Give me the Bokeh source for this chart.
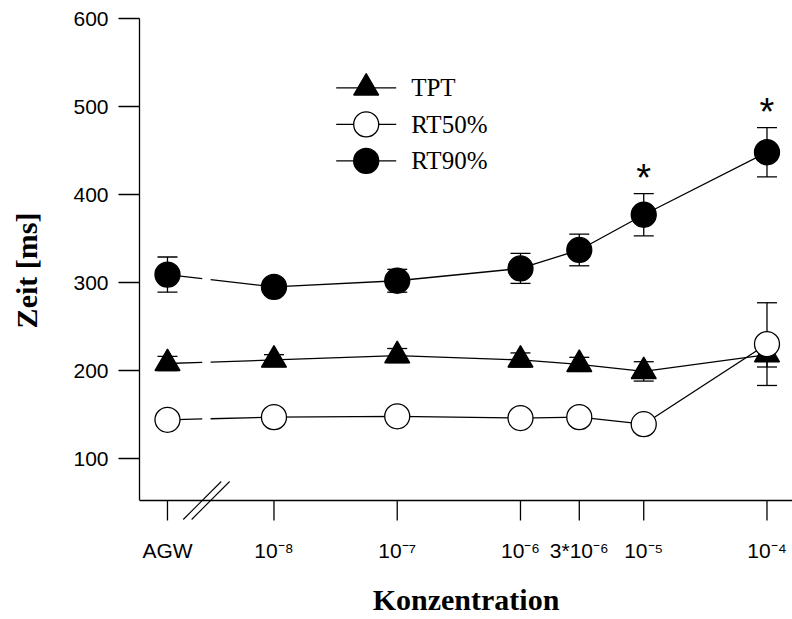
import numpy as np
from bokeh.plotting import figure
from bokeh.models import Range1d, FixedTicker, ColumnDataSource, Whisker, TeeHead
from bokeh.core.properties import value
from bokeh.embed import file_html
from bokeh.resources import INLINE

# ---------------- data ----------------
categories = ["AGW", "1e-8", "1e-7", "1e-6", "3e-6", "1e-5", "1e-4"]
concentrations = [None, 1e-8, 1e-7, 1e-6, 3e-6, 1e-5, 1e-4]
tick_labels = ["AGW", "10\u207b\u2078", "10\u207b\u2077", "10\u207b\u2076",
               "3*10\u207b\u2076", "10\u207b\u2075", "10\u207b\u2074"]

tpt_mean = [208, 212, 217, 212, 207, 199, 218]
tpt_err = [8, 6, 8, 8, 8, 11, 14]
rt50_mean = [144, 147, 148, 146, 147, 139, 230]
rt50_err = [5, 5, 5, 5, 5, 5, 47]
rt90_mean = [309, 295, 302, 316, 337, 377, 448]
rt90_err = [20, 9, 13, 17, 18, 24, 28]
significant = [False, False, False, False, False, True, True]

series_names = ["TPT", "RT50%", "RT90%"]
y_ticks = [100, 200, 300, 400, 500, 600]

# ---------------- axis layout constants (log10 concentration units) ----------------
X_LO, X_HI = -9.091, -3.793
Y_LO, Y_HI = 52.3, 600
AGW_POS = -8.864          # position of the control (AGW) on the broken axis
X_BREAK = -8.548          # centre of the axis break
BREAK_HALF = 0.034        # half distance between the two break slashes
PX_X = (X_HI - X_LO) / 653.0
PX_Y = (Y_HI - Y_LO) / 482.0
EXTRA = 22                # frame extends below the drawn x axis line (ticks + break marks)
TICK_LEN = 20

xpos = [AGW_POS] + [float(np.log10(c)) for c in concentrations[1:]]

p = figure(width=792, height=619, output_backend="svg", toolbar_location=None,
           x_range=Range1d(X_LO, X_HI), y_range=Range1d(Y_LO - EXTRA * PX_Y, Y_HI),
           min_border_left=139, min_border_right=0, min_border_top=18,
           min_border_bottom=119 - EXTRA)
p.outline_line_color = None
p.xgrid.visible = False
p.ygrid.visible = False
p.background_fill_color = "white"
p.border_fill_color = "white"

# y axis
p.yaxis.bounds = (Y_LO, Y_HI)
p.yaxis.ticker = FixedTicker(ticks=y_ticks)
p.yaxis.major_tick_out = 21
p.yaxis.major_tick_in = 0
p.yaxis.minor_tick_line_color = None
p.yaxis.major_label_text_font = "Liberation Sans"
p.yaxis.major_label_text_font_size = "21px"
p.yaxis.major_label_text_color = "black"
p.yaxis.major_label_standoff = 10
p.yaxis.axis_label = "Zeit [ms]"
p.yaxis.axis_label_text_font = "Liberation Serif"
p.yaxis.axis_label_text_font_style = "bold"
p.yaxis.axis_label_text_font_size = "30px"
p.yaxis.axis_label_text_color = "black"
p.yaxis.axis_label_standoff = 27
p.yaxis.axis_line_color = "black"
p.yaxis.axis_line_width = 1.3
p.yaxis.major_tick_line_color = "black"
p.yaxis.major_tick_line_width = 1.3

# x axis: labels from the real axis; line and ticks drawn at the axis level y=Y_LO
p.xaxis.ticker = FixedTicker(ticks=xpos)
p.xaxis.major_label_overrides = {x: lab for x, lab in zip(xpos, tick_labels)}
p.xaxis.axis_line_color = None
p.xaxis.major_tick_line_color = None
p.xaxis.major_tick_out = 0
p.xaxis.major_tick_in = 0
p.xaxis.minor_tick_line_color = None
p.xaxis.major_label_text_font = "Liberation Sans"
p.xaxis.major_label_text_font_size = "21px"
p.xaxis.major_label_text_color = "black"
p.xaxis.major_label_standoff = 16
p.xaxis.axis_label = "Konzentration"
p.xaxis.axis_label_text_font = "Liberation Serif"
p.xaxis.axis_label_text_font_style = "bold"
p.xaxis.axis_label_text_font_size = "30px"
p.xaxis.axis_label_text_color = "black"
p.xaxis.axis_label_standoff = 18

p.segment(x0=[X_LO], y0=[Y_LO], x1=[X_HI], y1=[Y_LO], line_color="black", line_width=1.3)
p.segment(x0=xpos, y0=[Y_LO] * len(xpos), x1=xpos,
          y1=[Y_LO - TICK_LEN * PX_Y] * len(xpos), line_color="black", line_width=1.3)

# axis break slashes
bx = 19 * PX_X
by = 19 * PX_Y
cs = [X_BREAK - BREAK_HALF, X_BREAK + BREAK_HALF]
p.segment(x0=[c - bx for c in cs], y0=[Y_LO - by] * 2,
          x1=[c + bx for c in cs], y1=[Y_LO + by] * 2,
          line_color="black", line_width=1.1)

styles = [
    dict(marker="triangle", fill_color="black"),
    dict(marker="circle", fill_color="white"),
    dict(marker="circle", fill_color="black"),
]
means = [tpt_mean, rt50_mean, rt90_mean]
errs = [tpt_err, rt50_err, rt90_err]

for m, e, st in zip(means, errs, styles):
    src = ColumnDataSource(dict(x=xpos, y=m,
                                upper=[a + b for a, b in zip(m, e)],
                                lower=[a - b for a, b in zip(m, e)]))
    # connecting line (broken between AGW and first concentration)
    p.line(xpos[1:], m[1:], line_color="black", line_width=1.3)
    x0, y0, x1, y1 = xpos[0], m[0], xpos[1], m[1]
    def yat(xx):
        return y0 + (y1 - y0) * (xx - x0) / (x1 - x0)
    ga, gb = X_BREAK - BREAK_HALF, X_BREAK + BREAK_HALF
    p.segment(x0=[x0, gb], y0=[y0, yat(gb)], x1=[ga, x1], y1=[yat(ga), y1],
              line_color="black", line_width=1.3)
    # error bars
    w = Whisker(source=src, base="x", upper="upper", lower="lower",
                line_color="black", line_width=1.3,
                upper_head=TeeHead(size=20, line_color="black", line_width=1.3),
                lower_head=TeeHead(size=20, line_color="black", line_width=1.3))
    p.add_layout(w)
    p.scatter("x", "y", source=src, marker=st["marker"], size=25,
              fill_color=st["fill_color"], line_color="black", line_width=1.3)

# significance asterisks
STAR_GAP = 18
sx = [x for x, s in zip(xpos, significant) if s]
sy = [m + e + STAR_GAP for m, e, s in zip(rt90_mean, rt90_err, significant) if s]
p.text(x=sx, y=sy, text=["*"] * len(sx), text_font=value("Liberation Sans"),
       text_font_size="38px", text_align="center", text_baseline="middle",
       text_color="black")

# legend (manual, to reproduce long line keys with full-size markers)
LEG_X = X_LO + 226.7 * PX_X
LEG_Y = Y_HI - 69.4 * PX_Y
LEG_DY = 36.5 * PX_Y
LEG_HALF = 30 * PX_X
LEG_TEXT_DX = 45 * PX_X
for i, (name, st) in enumerate(zip(series_names, styles)):
    yy = LEG_Y - i * LEG_DY
    p.segment(x0=[LEG_X - LEG_HALF], y0=[yy], x1=[LEG_X + LEG_HALF], y1=[yy],
              line_color="black", line_width=1.3)
    p.scatter(x=[LEG_X], y=[yy], marker=st["marker"], size=25,
              fill_color=st["fill_color"], line_color="black", line_width=1.3)
    p.text(x=[LEG_X + LEG_TEXT_DX], y=[yy], text=[name],
           text_font=value("Liberation Serif"), text_font_size="25px",
           text_align="left", text_baseline="middle", text_color="black")

open("out.html", "w").write(file_html(p, INLINE))
